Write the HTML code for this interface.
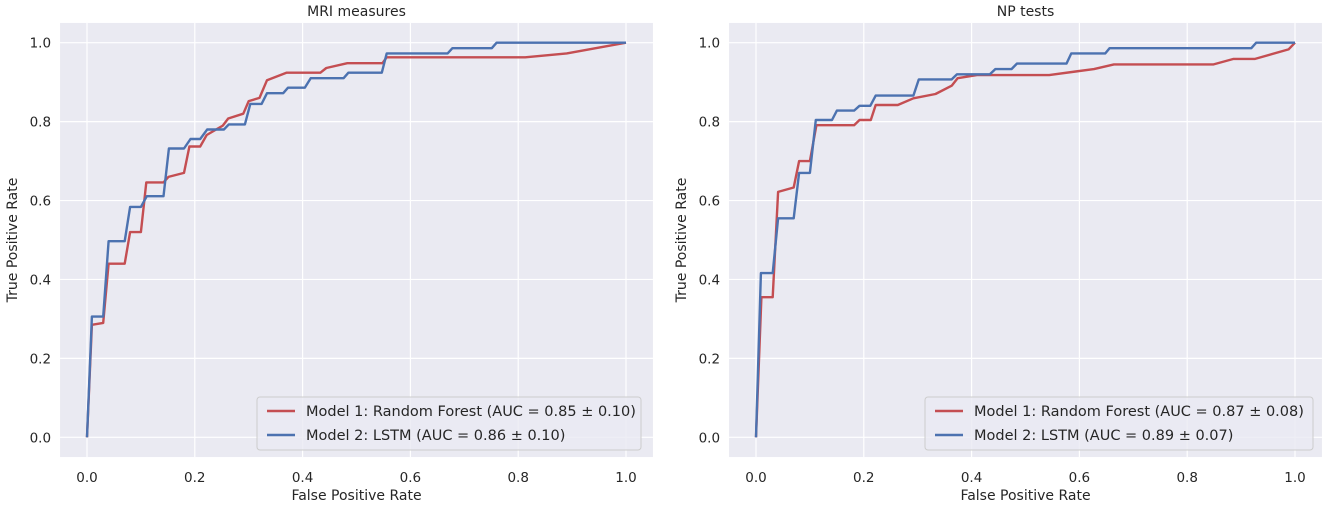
<!DOCTYPE html>
<html><head><meta charset="utf-8"><style>
body{margin:0;background:#fff;}
svg{display:block;font-family:"DejaVu Sans","Liberation Sans",sans-serif;}
</style></head><body>
<svg id="chart" width="1325" height="506" viewBox="0 0 1325 506"></svg>
<script>
const ticks = [0, 0.2, 0.4, 0.6, 0.8, 1.0];
const tickLabels = ["0.0","0.2","0.4","0.6","0.8","1.0"];
const titles = ["MRI measures", "NP tests"];
const legendLabels = [
  ["Model 1: Random Forest (AUC = 0.85 ± 0.10)", "Model 2: LSTM (AUC = 0.86 ± 0.10)"],
  ["Model 1: Random Forest (AUC = 0.87 ± 0.08)", "Model 2: LSTM (AUC = 0.89 ± 0.07)"]
];
const mriRfFpr = [0,0.009,0.03,0.04,0.07,0.08,0.10,0.11,0.142,0.151,0.18,0.19,0.21,0.222,0.252,0.262,0.29,0.30,0.32,0.334,0.37,0.433,0.444,0.483,0.548,0.556,0.813,0.89,1.0];
const mriRfTpr = [0,0.285,0.29,0.44,0.44,0.52,0.52,0.646,0.646,0.66,0.67,0.737,0.737,0.766,0.79,0.808,0.82,0.852,0.86,0.905,0.924,0.924,0.936,0.948,0.948,0.963,0.963,0.973,1.0];
const mriLstmFpr = [0,0.009,0.03,0.04,0.07,0.08,0.10,0.111,0.142,0.152,0.18,0.192,0.21,0.223,0.254,0.263,0.293,0.303,0.324,0.334,0.364,0.373,0.404,0.415,0.476,0.485,0.547,0.556,0.669,0.678,0.751,0.76,1.0];
const mriLstmTpr = [0,0.306,0.306,0.497,0.497,0.584,0.584,0.611,0.611,0.732,0.732,0.756,0.756,0.78,0.78,0.793,0.793,0.845,0.845,0.872,0.872,0.886,0.886,0.91,0.91,0.924,0.924,0.973,0.973,0.986,0.986,1.0,1.0];
const npRfFpr = [0,0.01,0.031,0.041,0.07,0.08,0.10,0.112,0.182,0.192,0.213,0.222,0.263,0.292,0.333,0.363,0.374,0.41,0.544,0.593,0.627,0.664,0.849,0.886,0.926,0.988,1.0];
const npRfTpr = [0,0.355,0.355,0.622,0.633,0.70,0.70,0.791,0.791,0.804,0.804,0.842,0.842,0.859,0.87,0.891,0.91,0.918,0.918,0.927,0.933,0.945,0.945,0.959,0.959,0.983,1.0];
const npLstmFpr = [0,0.009,0.031,0.041,0.07,0.08,0.10,0.111,0.141,0.15,0.182,0.192,0.212,0.222,0.292,0.302,0.363,0.373,0.434,0.444,0.474,0.484,0.576,0.585,0.648,0.656,0.919,0.928,1.0];
const npLstmTpr = [0,0.416,0.416,0.555,0.555,0.67,0.67,0.804,0.804,0.828,0.828,0.84,0.84,0.866,0.866,0.907,0.907,0.92,0.92,0.933,0.933,0.947,0.947,0.973,0.973,0.986,0.986,1.0,1.0];

const NS="http://www.w3.org/2000/svg";
const svg=document.getElementById('chart');
function mk(tag,attrs,parent){const e=document.createElementNS(NS,tag);for(const k in attrs)e.setAttribute(k,attrs[k]);(parent||svg).appendChild(e);return e;}
const panels=[{x0:87,x1:626,key:'mri',rf:[mriRfFpr,mriRfTpr],ls:[mriLstmFpr,mriLstmTpr],leg:257},
              {x0:756,x1:1295,key:'np',rf:[npRfFpr,npRfTpr],ls:[npLstmFpr,npLstmTpr],leg:925}];
const y0=437.3,y1=42.7;
panels.forEach((p,i)=>{
  const sx=v=>p.x0+v*(p.x1-p.x0), sy=v=>y0-v*(y0-y1);
  const g=mk('g',{});
  
  
  const bg=mk('rect',{x:sx(-0.05),y:sy(1.05),width:sx(1.05)-sx(-0.05),height:sy(-0.05)-sy(1.05),fill:'#eaeaf2'},g);
  
  
  ticks.forEach((t,j)=>{
    mk('line',{x1:sx(t),x2:sx(t),y1:sy(1.05),y2:sy(-0.05),stroke:'#fff','stroke-width':1.2},g);
    mk('line',{y1:sy(t),y2:sy(t),x1:sx(-0.05),x2:sx(1.05),stroke:'#fff','stroke-width':1.2},g);
    const xt=mk('text',{x:sx(t),y:482,'text-anchor':'middle','font-size':13.5,fill:'#262626'},g);
    xt.textContent=tickLabels[j];
    
    
    const yt=mk('text',{x:sx(-0.05)-9,y:sy(t)+5,'text-anchor':'end','font-size':13.5,fill:'#262626'},g);
    yt.textContent=tickLabels[j];
    
    
  });
  const ttl=mk('text',{x:(sx(-0.05)+sx(1.05))/2,y:16,'text-anchor':'middle','font-size':14,fill:'#262626'},g);
  ttl.textContent=titles[i];
  
  
  const xl=mk('text',{x:(sx(-0.05)+sx(1.05))/2,y:500,'text-anchor':'middle','font-size':14,fill:'#262626'},g);
  xl.textContent='False Positive Rate';
  
  
  const yx=sx(-0.05)-43;
  const yl=mk('text',{x:yx,y:240,'text-anchor':'middle','font-size':14,fill:'#262626',transform:`rotate(-90 ${yx} 240)`},g);
  yl.textContent='True Positive Rate';
  
  
  [[p.rf,'#c44e52','random-forest-curve'],[p.ls,'#4c72b0','lstm-curve']].forEach(([d,c,n])=>{
    const pts=d[0].map((v,k)=>sx(v).toFixed(1)+','+sy(d[1][k]).toFixed(1)).join(' ');
    const pl=mk('polyline',{points:pts,fill:'none',stroke:c,'stroke-width':2.4,'stroke-linejoin':'round'},g);
    
    
  });
  const lg=mk('g',{},g);
  
  
  const lw=i===0?384:388;
  mk('rect',{x:p.leg,y:397,width:lw,height:53,rx:3,fill:'#eaeaf2','fill-opacity':0.8,stroke:'#cccccc'},lg);
  [['#c44e52',411],['#4c72b0',435]].forEach(([c,yy],k)=>{
    mk('line',{x1:p.leg+10,x2:p.leg+38,y1:yy,y2:yy,stroke:c,'stroke-width':2.4},lg);
    const t=mk('text',{x:p.leg+49,y:yy+5,'font-size':14.5,fill:'#262626'},lg);
    t.textContent=legendLabels[i][k];
    
    
  });
});
</script>
</body></html>
